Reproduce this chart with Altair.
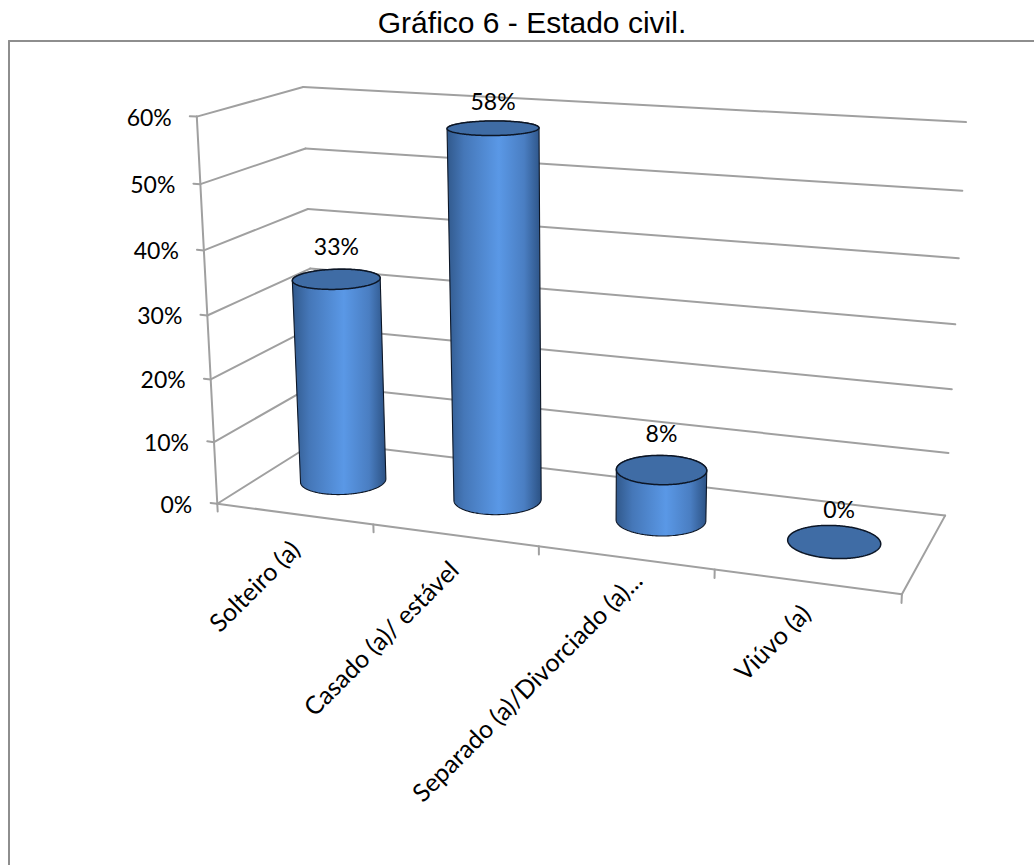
import altair as alt
import numpy as np
import pandas as pd

# Chart content
TITLE = "Gráfico 6 - Estado civil."
CATEGORIES = ["Solteiro (a)", "Casado (a)/ estável", "Separado (a)/Divorciado (a)...", "Viúvo (a)"]
VALUES = [33, 58, 8, 0]
Y_TICKS = [0, 10, 20, 30, 40, 50, 60]
Y_MAX = 60

# Canvas and palette
W, H = 1034, 865
GRID = "#a0a0a0"
FRAME = "#8e8e8e"
CAP = "#3f6ca5"
EDGE = "#0c1626"
BODY_STOPS = [
    (0.0, "#31598c"), (0.18, "#4577b8"), (0.55, "#5a98e6"),
    (0.82, "#4a7ec2"), (1.0, "#2c5284"),
]

# Perspective camera of the 3D box: world (across, depth, height), each 0..1,
# solved from where the box corners fall on the canvas.
BOX_WORLD = [(0, 0, 0), (1, 0, 0), (1, 1, 0), (0, 1, 0), (0, 0, 1), (1, 1, 1), (0, 1, 1)]
BOX_CANVAS = [(217, 504), (902, 594), (945, 516), (317, 441), (197, 116.7), (966, 122), (303, 87)]


def solve_camera():
    rows, rhs = [], []
    for (a, b, c), (sx, sy) in zip(BOX_WORLD, BOX_CANVAS):
        rows.append([a, b, c, 1, 0, 0, 0, 0, -sx * a, -sx * b, -sx * c])
        rhs.append(sx)
        rows.append([0, 0, 0, 0, a, b, c, 1, -sy * a, -sy * b, -sy * c])
        rhs.append(sy)
    p = np.linalg.lstsq(np.array(rows, float), np.array(rhs, float), rcond=None)[0]
    return np.append(p, 1.0).reshape(3, 4)


CAM = solve_camera()


def project(a, b, c):
    v = CAM @ np.array([a, b, c, 1.0])
    return float(v[0] / v[2]), float(v[1] / v[2])


# Cylinder footprint in world units
RADIUS_ACROSS = 0.0635
RADIUS_DEPTH = 0.205
DEPTH_CENTER = 0.5
THETA = np.linspace(0, 2 * np.pi, 121)


def circle(center, height):
    return [project(center + RADIUS_ACROSS * np.cos(t),
                    DEPTH_CENTER + RADIUS_DEPTH * np.sin(t), height) for t in THETA]


def envelope(points):
    """Upper and lower edges of the convex outline of the points, per x."""
    pts = sorted(set(points))

    def chain(seq, sign):
        out = []
        for p in seq:
            while len(out) >= 2:
                cross = (out[-1][0] - out[-2][0]) * (p[1] - out[-2][1]) - \
                        (out[-1][1] - out[-2][1]) * (p[0] - out[-2][0])
                if cross * sign <= 0:
                    out.pop()
                else:
                    break
            out.append(p)
        return out

    top = chain(pts, 1)     # canvas y grows downward
    bottom = chain(pts, -1)
    xs = sorted({p[0] for p in top} | {p[0] for p in bottom})
    return pd.DataFrame({
        "x": xs,
        "y": np.interp(xs, [p[0] for p in top], [p[1] for p in top]),
        "y2": np.interp(xs, [p[0] for p in bottom], [p[1] for p in bottom]),
    })


SX = alt.Scale(domain=[0, W], range=[0, W], nice=False, zero=False)
SY = alt.Scale(domain=[0, H], range=[0, H], nice=False, zero=False)


def segments(rows, color, width):
    df = pd.DataFrame(rows, columns=["x", "y", "x2", "y2"])
    return alt.Chart(df).mark_rule(color=color, strokeWidth=width, strokeCap="round").encode(
        x=alt.X("x:Q", scale=SX, axis=None),
        y=alt.Y("y:Q", scale=SY, axis=None),
        x2="x2:Q",
        y2="y2:Q",
    )


def joined(*pts):
    return [(*pts[i], *pts[i + 1]) for i in range(len(pts) - 1)]


layers = []

# Outer frame: only the top and left edges fall inside the canvas
layers.append(segments([(9, 41, W, 41), (9, 41, 9, H)], FRAME, 2))

# Walls, floor and ticks
lines = []
for t in Y_TICKS:
    h = t / Y_MAX
    lines += joined(project(0, 0, h), project(0, 1, h), project(1, 1, h))
    lines += joined(project(-0.011, 0, h), project(0, 0, h))
lines += joined(project(0, 0, 0), project(0, 0, 1))
lines += joined(project(0, 0, 0), project(1, 0, 0), project(1, 1, 0))
for i in range(len(CATEGORIES) + 1):
    u = i / len(CATEGORIES)
    lines += joined(project(u, 0, 0), project(u, 0, -0.021))
layers.append(segments(lines, GRID, 2))

# Cylinders, each with its own gradient box
gradient = alt.Gradient(
    gradient="linear", x1=0, x2=1, y1=0, y2=0,
    stops=[alt.GradientStop(offset=o, color=c) for o, c in BODY_STOPS],
)
label_rows = []
VALUE_LABEL_LIFT = [21, 18, 20, 14]
for i, value in enumerate(VALUES):
    center = (i + 0.5) / len(VALUES)
    h = value / Y_MAX
    base = circle(center, 0)
    cap = circle(center, h)
    enc = dict(
        x=alt.X("x:Q", scale=SX, axis=None),
        y=alt.Y("y:Q", scale=SY, axis=None),
        y2="y2:Q",
    )
    if value > 0:
        layers.append(alt.Chart(envelope(base + cap)).mark_area(
            color=gradient, stroke=EDGE, strokeWidth=1.1, interpolate="linear",
        ).encode(**enc))
    layers.append(alt.Chart(envelope(cap)).mark_area(
        color=CAP, stroke=EDGE, strokeWidth=1.5, interpolate="linear",
    ).encode(**enc))
    cx, cy = project(center, DEPTH_CENTER, h)
    top_y = min(p[1] for p in cap)
    nudge = 5 if value == 0 else 0
    label_rows.append({"x": cx + nudge, "y": top_y - VALUE_LABEL_LIFT[i], "t": f"{value}%"})

FONT = "Lato"


def text_layer(df, size, **mark):
    return alt.Chart(df).mark_text(font=FONT, fontSize=size, color="#000000", **mark).encode(
        x=alt.X("x:Q", scale=SX, axis=None),
        y=alt.Y("y:Q", scale=SY, axis=None),
        text="t:N",
    )


# Value labels above each cylinder
layers.append(text_layer(pd.DataFrame(label_rows), 23, align="center", baseline="middle"))

# Percentage labels beside the height axis
y_labels = []
for t in Y_TICKS:
    px, py = project(0, 0, t / Y_MAX)
    y_labels.append({"x": px - 25, "y": py + 2, "t": f"{t}%"})
layers.append(text_layer(pd.DataFrame(y_labels), 23, align="right", baseline="middle"))

# Category labels running up to the floor edge
cat_labels = []
LABEL_NUDGE = [(2, 32), (0, 31), (13, 19), (0, 28)]
for i, name in enumerate(CATEGORIES):
    px, py = project((i + 0.5) / len(CATEGORIES), 0, 0)
    dx, dy = LABEL_NUDGE[i]
    cat_labels.append({"x": px + dx, "y": py + dy, "t": name})
layers.append(text_layer(pd.DataFrame(cat_labels), 25, align="right", baseline="middle", angle=315))

# Heading
layers.append(alt.Chart(pd.DataFrame([{"x": 532, "y": 33, "t": TITLE}])).mark_text(
    font="Liberation Sans", fontSize=30, color="#000000", align="center", baseline="alphabetic",
).encode(
    x=alt.X("x:Q", scale=SX, axis=None),
    y=alt.Y("y:Q", scale=SY, axis=None),
    text="t:N",
))

chart = alt.layer(*layers).properties(
    width=W, height=H, padding=0, autosize=alt.AutoSizeParams(type="none"),
    background="#ffffff",
).configure_view(stroke=None)

chart.save("out.html", embed_options={"renderer": "svg", "actions": False})
